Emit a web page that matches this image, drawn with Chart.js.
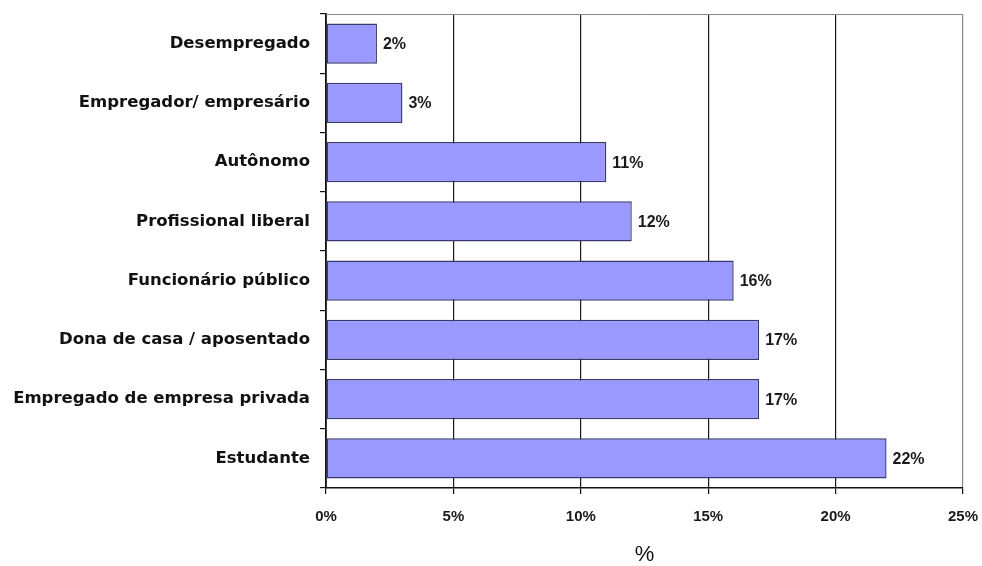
<!DOCTYPE html>
<html>
<head>
<meta charset="utf-8">
<script src="https://cdn.jsdelivr.net/npm/chart.js@4/dist/chart.umd.min.js"></script>
<style>
  html, body { margin: 0; padding: 0; background: #fff; }
  #wrap { width: 982px; height: 566px; }
</style>
</head>
<body>
<div id="wrap"><canvas id="c" width="982" height="566"></canvas></div>
<script>
// Ocupação dos entrevistados (%)
const categories = [
  'Desempregado',
  'Empregador/ empresário',
  'Autônomo',
  'Profissional liberal',
  'Funcionário público',
  'Dona de casa / aposentado',
  'Empregado de empresa privada',
  'Estudante'
];
const values = [2, 3, 11, 12, 16, 17, 17, 22];
const xTicks = [0, 5, 10, 15, 20, 25];

const LABEL_FONT = '"DejaVu Sans", sans-serif';
const NUM_FONT = '"Liberation Sans", Arial, sans-serif';

// Value labels at the end of each bar
const valueLabels = {
  id: 'valueLabels',
  afterDatasetsDraw(chart) {
    const ctx = chart.ctx;
    const meta = chart.getDatasetMeta(0);
    ctx.save();
    ctx.font = 'bold 16px ' + NUM_FONT;
    ctx.fillStyle = '#1a1a1a';
    ctx.textAlign = 'left';
    ctx.textBaseline = 'middle';
    meta.data.forEach((bar, i) => {
      ctx.fillText(values[i] + '%', bar.x + 6, bar.y + 1);
    });
    ctx.restore();
  }
};

// Thin grey frame line along the top of the plot area
const topFrame = {
  id: 'topFrame',
  beforeDatasetsDraw(chart) {
    const { ctx, chartArea: a } = chart;
    ctx.save();
    ctx.strokeStyle = '#8a8a8a';
    ctx.lineWidth = 1;
    ctx.beginPath();
    ctx.moveTo(a.left, a.top + 0.5);
    ctx.lineTo(a.right, a.top + 0.5);
    ctx.stroke();
    ctx.restore();
  }
};

new Chart(document.getElementById('c'), {
  type: 'bar',
  data: {
    labels: categories,
    datasets: [{
      data: values,
      backgroundColor: '#9999ff',
      borderColor: '#383870',
      borderWidth: 1.4,
      borderSkipped: false,
      categoryPercentage: 1,
      barPercentage: 0.68
    }]
  },
  options: {
    indexAxis: 'y',
    responsive: false,
    animation: false,
    devicePixelRatio: 1,
    layout: { padding: { top: 14, right: 19, left: 0, bottom: 0 } },
    plugins: {
      legend: { display: false },
      tooltip: { enabled: false }
    },
    scales: {
      x: {
        min: 0,
        max: 25,
        afterBuildTicks(scale) {
          scale.ticks = xTicks.map(v => ({ value: v }));
        },
        afterFit(scale) {
          scale.height = 78;
          scale.paddingLeft = 0;
          scale.paddingRight = 0;
        },
        grid: {
          color: ctx => (ctx.tick && ctx.tick.value === 25) ? '#8a8a8a' : '#1a1a1a',
          lineWidth: 1.2,
          drawTicks: true,
          tickLength: 6,
          tickColor: '#111'
        },
        border: { display: true, color: '#111', width: 1.5 },
        ticks: {
          padding: 14,
          color: '#1a1a1a',
          font: { family: NUM_FONT, size: 15, weight: 'bold' },
          callback: v => v + '%'
        },
        title: {
          display: true,
          text: '%',
          color: '#111',
          font: { family: NUM_FONT, size: 22 },
          padding: { top: 0, bottom: -2 }
        }
      },
      y: {
        afterFit(scale) {
          scale.width = 326;
          scale.paddingTop = 0;
          scale.paddingBottom = 0;
        },
        grid: {
          offset: true,
          drawOnChartArea: false,
          drawTicks: true,
          tickLength: 6,
          color: '#111',
          lineWidth: 1.2
        },
        border: { display: true, color: '#111', width: 1.8 },
        ticks: {
          padding: 10,
          color: '#111',
          font: { family: LABEL_FONT, size: 16.5, weight: 'bold' }
        }
      }
    }
  },
  plugins: [topFrame, valueLabels]
});
</script>
</body>
</html>
